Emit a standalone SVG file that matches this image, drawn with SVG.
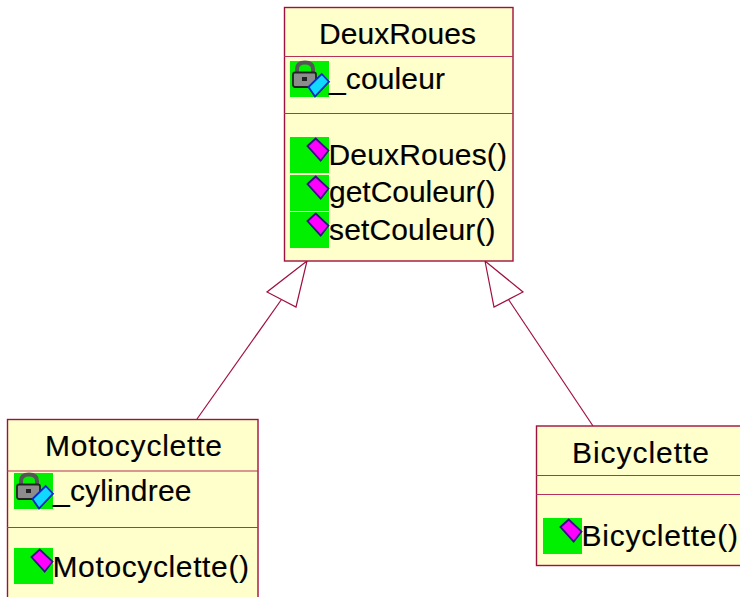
<svg xmlns="http://www.w3.org/2000/svg" width="740" height="597" viewBox="0 0 740 597">
<style>
.box{fill:#ffffcb;stroke:#a0103f;stroke-width:1.4}
.sep{stroke:#b5305a;stroke-width:1.2;fill:none}
.t{font-family:"Liberation Sans",Arial,sans-serif;font-size:30px;fill:#000;stroke:#000;stroke-width:.15}
.g{fill:#00f000}
.edge{fill:none;stroke:#a0103f;stroke-width:1.2}
.head{fill:#fff;stroke:#a0103f;stroke-width:1.2}
</style>
<defs>
<g id="op">
<rect class="g" width="39" height="36"/>
<path d="M17.500 9 L25.700 1.500 L38.500 13.700 L30.700 23.500Z" fill="#f0f" stroke="#301080" stroke-width="1.800"/>
</g>
<g id="attr">
<rect class="g" width="39" height="36"/>
<path d="M7 12 V8 Q7 1.500 15 1.500 Q23 1.500 23 8 V12" fill="none" stroke="#555" stroke-width="4"/>
<rect x="3" y="11.500" width="23" height="14.500" rx="2" fill="#8c8c8c" stroke="#222" stroke-width="1.800"/>
<rect x="12" y="16" width="5" height="4" fill="#222"/>
<path d="M18.500 26 L31.700 13 L39 20.700 L25 35.500Z" fill="#10d8ff" stroke="#1028c0" stroke-width="1.800"/>
</g>
</defs>
<g id="connectors">
<line class="edge" x1="197" y1="419" x2="281.500" y2="299.500"/>
<polygon class="head" points="307,261 267,292 296,307"/>
<line class="edge" x1="593" y1="426" x2="508.500" y2="299.500"/>
<polygon class="head" points="485,261 494,307 523,292"/>
</g>
<g id="DeuxRoues">
<rect class="box" x="284.500" y="7.500" width="228.500" height="253.500"/>
<line class="sep" x1="284" y1="56.500" x2="513" y2="56.500"/>
<line class="sep" x1="284" y1="113.500" x2="513" y2="113.500"/>
<text class="t" x="319" y="44" textLength="157">DeuxRoues</text>
<use href="#attr" x="290" y="61"/>
<text class="t" x="329" y="89" textLength="116">_couleur</text>
<use href="#op" x="290" y="137"/>
<text class="t" x="328.500" y="165" textLength="178.500">DeuxRoues()</text>
<use href="#op" x="290" y="175"/>
<text class="t" x="329" y="202" textLength="166.500">getCouleur()</text>
<use href="#op" x="290" y="212"/>
<text class="t" x="329" y="240" textLength="166.500">setCouleur()</text>
</g>
<g id="Motocyclette">
<rect class="box" x="7.500" y="419.500" width="250.500" height="190"/>
<line class="sep" x1="7" y1="471" x2="258" y2="471"/>
<line class="sep" x1="7" y1="527.500" x2="258" y2="527.500"/>
<text class="t" x="45" y="456" textLength="177">Motocyclette</text>
<use href="#attr" x="14" y="473"/>
<text class="t" x="53" y="501" textLength="138.500">_cylindree</text>
<use href="#op" x="14" y="548"/>
<text class="t" x="52.500" y="577" textLength="196.500">Motocyclette()</text>
</g>
<g id="Bicyclette">
<rect class="box" x="536.500" y="426" width="220" height="139.500"/>
<line class="sep" x1="536" y1="475.500" x2="740" y2="475.500"/>
<line class="sep" x1="536" y1="494.500" x2="740" y2="494.500"/>
<text class="t" x="572" y="463" textLength="137">Bicyclette</text>
<use href="#op" x="543" y="518"/>
<text class="t" x="581.500" y="546" textLength="156.500">Bicyclette()</text>
</g>
</svg>
